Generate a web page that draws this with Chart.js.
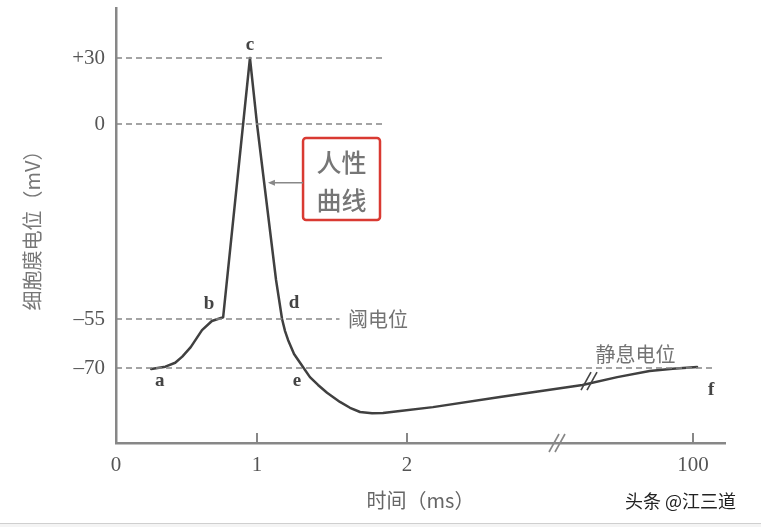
<!DOCTYPE html>
<html>
<head>
<meta charset="utf-8">
<script src="https://cdn.jsdelivr.net/npm/chart.js@4.4.1/dist/chart.umd.min.js"></script>
<style>
  html,body{margin:0;padding:0;background:#fff;}
  #wrap{position:relative;width:761px;height:527px;overflow:hidden;background:#fff;}
  #c{position:absolute;left:0;top:0;}
  #wm{position:absolute;left:625px;top:487px;font:18px 'Noto Sans CJK SC',sans-serif;color:#222;letter-spacing:0px;}
  #foot{position:absolute;left:0;top:523px;width:761px;height:4px;border-top:1px solid #cfcfcf;background:#f4f4f4;}
</style>
</head>
<body>
<div id="wrap">
  <canvas id="c" width="761" height="527"></canvas>
  <div id="wm">头条 @江三道</div>
  <div id="foot"></div>
</div>
<script>
// ---------- data (time in ms, membrane potential in mV) ----------
const timeMs = [0.25, 0.35, 0.42, 0.47, 0.53, 0.61, 0.68, 0.76, 0.95, 1.0, 1.127, 1.167, 1.187, 1.207, 1.247, 1.287, 1.353, 1.407, 1.467, 1.553, 1.62, 1.687, 1.767, 1.84, 1.953, 2.173, 2.62, 3.17, 92.5, 95.7, 98, 100.4];
const potentialMv = [-70.3, -69.6, -68.4, -66.5, -63.6, -58.4, -55.6, -54.5, 30, 0, -44, -55, -58.7, -61.4, -65.7, -68.4, -72.8, -75.2, -77.6, -80.4, -82.2, -83.5, -83.9, -83.8, -83.2, -82, -78.9, -75.2, -72.8, -70.9, -70.2, -69.7];

const xTickValues = [0, 1, 2, 100];
const xTickLabels = ['0', '1', '2', '100'];
const yTickValues = [-70, -55, 0, 30];
const yTickLabels = ['–70', '–55', '0', '+30'];

// reference (dashed) levels and how far they run (ms)
const refLevels = [30, 0, -55, -70];
const refEnds = [1.84, 1.84, 1.55, 102.1];

// letter labels
const pointLabels = ['a', 'b', 'c', 'd', 'e', 'f'];
const pointLabelTimes = [0.31, 0.66, 0.95, 1.247, 1.267, 101.8];
const pointLabelMv = [-74, -50.8, 35.9, -50.4, -74, -76.7];

// axis calibration of the (non-uniform, broken) axes: [value, position unit]
const xAnchors = [[0, 0], [1, 141], [2, 291], [3.2, 471], [90, 476], [100, 577]];
const yAnchors = [[-93, 0], [-70, 75], [-55, 124], [0, 319], [30, 385], [53, 435]];
const axisBreakMs = 3.0;
const curveBreakMs = 3.2;

// ---------- piecewise scale ----------
const ANCHORS = { x: xAnchors, y: yAnchors };
function mapPiece(anchors, v, from, to) {
  const n = anchors.length;
  let i = 0;
  while (i < n - 2 && v > anchors[i + 1][from]) i++;
  const a = anchors[i], b = anchors[i + 1];
  return a[to] + (v - a[from]) * (b[to] - a[to]) / (b[from] - a[from]);
}
class PiecewiseScale extends Chart.LinearScale {
  static id = 'piecewise';
  static defaults = Chart.LinearScale.defaults;
  determineDataLimits() {
    const an = ANCHORS[this.id];
    this.min = an[0][1];
    this.max = this.options.uMax;
  }
  buildTicks() {
    return (this.id === 'x' ? xTickValues : yTickValues).map(v => ({ value: v }));
  }
  _calculatePadding() {
    this.paddingLeft = 0; this.paddingRight = 0; this.paddingTop = 0; this.paddingBottom = 0;
  }
  getPixelForValue(v) {
    if (v === null || v === undefined) return NaN;
    return super.getPixelForValue(mapPiece(ANCHORS[this.id], v, 0, 1));
  }
  getValueForPixel(p) {
    return mapPiece(ANCHORS[this.id], super.getValueForPixel(p), 1, 0);
  }
}
Chart.register(PiecewiseScale);

const GRAY = '#878787';
const SERIF = "'Liberation Serif','DejaVu Serif',serif";
const CJK = "'Noto Sans CJK SC','Noto Sans',sans-serif";

const curve = timeMs.map((t, i) => ({ x: t, y: potentialMv[i] }));
const refSets = refLevels.map((lv, i) => ({
  data: [{ x: 0, y: lv }, { x: refEnds[i], y: lv }],
  borderColor: GRAY, borderWidth: 1.6, borderDash: [6, 4], pointRadius: 0, tension: 0
}));

const annot = {
  id: 'annot',
  afterDatasetsDraw(chart) {
    const { ctx, scales: { x, y } } = chart;
    const X = v => x.getPixelForValue(v), Y = v => y.getPixelForValue(v);
    ctx.save();
    // inner tick marks
    ctx.strokeStyle = GRAY; ctx.lineWidth = 2;
    xTickValues.slice(1).forEach(v => {
      ctx.beginPath(); ctx.moveTo(X(v), y.bottom); ctx.lineTo(X(v), y.bottom - 10); ctx.stroke();
    });
    // break marks
    function brk(px, py, col) {
      ctx.strokeStyle = col; ctx.lineWidth = 1.6;
      [-3, 3].forEach(o => {
        ctx.beginPath(); ctx.moveTo(px + o - 5, py + 9); ctx.lineTo(px + o + 5, py - 9); ctx.stroke();
      });
    }
    brk(X(axisBreakMs), y.bottom, GRAY);
    const ci = timeMs.findIndex(t => t > curveBreakMs);
    const by = (Y(potentialMv[ci - 1]) + Y(potentialMv[ci])) / 2;
    brk(X(curveBreakMs) + 2, by, '#444');
    // letters
    ctx.fillStyle = '#444';
    ctx.font = 'bold 19px ' + SERIF;
    ctx.textAlign = 'center'; ctx.textBaseline = 'middle';
    pointLabels.forEach((l, i) => ctx.fillText(l, X(pointLabelTimes[i]), Y(pointLabelMv[i])));
    // level names
    ctx.fillStyle = '#737373';
    ctx.font = '20px ' + CJK;
    ctx.textAlign = 'left';
    ctx.fillText('阈电位', X(1.607), Y(-55));
    ctx.textAlign = 'center';
    ctx.fillText('静息电位', X(94.3), Y(-65.8));
    // box
    const bx0 = X(1.307), bx1 = X(1.82), by0 = Y(-3.95), by1 = Y(-27.1);
    ctx.strokeStyle = '#d93a32'; ctx.lineWidth = 2.5;
    ctx.beginPath();
    if (ctx.roundRect) ctx.roundRect(bx0, by0, bx1 - bx0, by1 - by0, 3); else ctx.rect(bx0, by0, bx1 - bx0, by1 - by0);
    ctx.stroke();
    ctx.fillStyle = '#767676';
    ctx.font = '500 25px ' + CJK;
    ctx.fillText('人性', (bx0 + bx1) / 2, by0 + (by1 - by0) * 0.3);
    ctx.fillText('曲线', (bx0 + bx1) / 2, by0 + (by1 - by0) * 0.76);
    // arrow
    const ay = Y(-16.6), ax = X(1.073);
    ctx.strokeStyle = '#888'; ctx.lineWidth = 1.5;
    ctx.beginPath(); ctx.moveTo(bx0, ay); ctx.lineTo(ax + 2, ay); ctx.stroke();
    ctx.fillStyle = '#888';
    ctx.beginPath(); ctx.moveTo(ax, ay); ctx.lineTo(ax + 7, ay - 3); ctx.lineTo(ax + 7, ay + 3); ctx.closePath(); ctx.fill();
    ctx.restore();
  }
};

new Chart(document.getElementById('c'), {
  type: 'line',
  data: {
    datasets: [
      ...refSets,
      { data: curve, borderColor: '#404040', borderWidth: 2.5, pointRadius: 0, tension: 0, borderJoinStyle: 'round', borderCapStyle: 'round' }
    ]
  },
  options: {
    responsive: false,
    animation: false,
    layout: { padding: { left: 0, right: 36, top: 8, bottom: 0 } },
    plugins: { legend: { display: false }, tooltip: { enabled: false } },
    scales: {
      x: {
        type: 'piecewise', uMax: 609,
        grid: { display: false, drawTicks: false },
        border: { display: true, color: GRAY, width: 2.5 },
        ticks: {
          autoSkip: false, maxRotation: 0, padding: 10, color: '#555',
          font: { family: SERIF, size: 21 },
          callback: v => xTickLabels[xTickValues.indexOf(v)]
        },
        title: { display: true, text: '时间（ms）', color: '#666', font: { family: CJK, size: 20 }, padding: { top: 0, bottom: 15 } },
        afterFit: s => { s.height = 84; }
      },
      y: {
        type: 'piecewise', uMax: 435,
        grid: { display: false, drawTicks: false },
        border: { display: true, color: GRAY, width: 2.5 },
        ticks: {
          autoSkip: false, padding: 11, color: '#555',
          font: { family: SERIF, size: 21 },
          callback: v => yTickLabels[yTickValues.indexOf(v)]
        },
        title: { display: true, text: '细胞膜电位（mV）', color: '#777', font: { family: CJK, size: 20 }, padding: { top: 20, bottom: 0 } },
        afterFit: s => { s.width = 116; }
      }
    }
  },
  plugins: [annot]
});
</script>
</body>
</html>
